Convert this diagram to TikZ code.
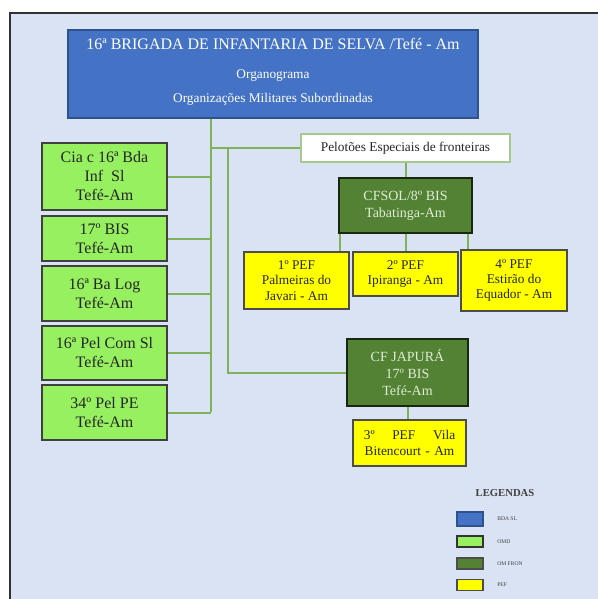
\documentclass[tikz,border=0pt]{standalone}
\usepackage{fontspec}
\setmainfont{Liberation Serif}
\definecolor{bgblue}{RGB}{218,227,243}
\definecolor{bdablue}{RGB}{68,114,196}
\definecolor{bdaborder}{RGB}{47,82,143}
\definecolor{omdgreen}{RGB}{150,240,95}
\definecolor{frongreen}{RGB}{84,130,53}
\definecolor{frontext}{RGB}{222,236,212}
\definecolor{pefyellow}{RGB}{255,255,0}
\definecolor{linegreen}{RGB}{128,178,92}
\usetikzlibrary{positioning}

\begin{document}
\begin{tikzpicture}[x=0.75pt, y=-0.75pt,
        every node/.style={font=\fontsize{10}{12}\selectfont, align=center, inner sep=0pt},
        bda/.style={draw=bdaborder, fill=bdablue, text=white, line width=1pt},
        omd/.style={draw=black!75, fill=omdgreen, line width=1.2pt, minimum width=93.75pt, text=black!85, font=\fontsize{12}{14.25}\selectfont},
        omfron/.style={draw=black!70!frongreen, fill=frongreen, line width=1.2pt, text=frontext, font=\fontsize{10.5}{12.75}\selectfont},
        pef/.style={draw=black!70, fill=pefyellow, line width=1.2pt, text=black!85, font=\fontsize{10}{11.5}\selectfont},
        title/.style={draw=linegreen!70, fill=white, line width=1pt, text=black!85},
        conn/.style={draw=linegreen, line width=1.5pt},
        swatch/.style={line width=1pt, minimum width=19.5pt, minimum height=9pt},
        legtext/.style={font=\fontsize{4.2}{5}\selectfont, anchor=west, text=black!75},
        node distance=2.55pt
      ]
      \useasboundingbox (0,0) rectangle (597,599);
      % background frame
      \draw[fill=bgblue, draw=black!80, line width=1.5pt] (10,13) rectangle (640,640);

      % top box
      \node[bda, minimum width=307.5pt, minimum height=66pt] (bda) at (273,74)
        {{\fontsize{12}{14}\selectfont 16ª BRIGADA DE INFANTARIA DE SELVA /Tefé - Am}\\[9.5pt]
         Organograma\\[6pt] Organizações Militares Subordinadas\\[-7pt]\mbox{}};

      % left column
      \node[omd, minimum height=50.25pt] (cia) at (104.5,176.5) {Cia c 16ª Bda\\Inf\ \ Sl\\Tefé-Am};
      \node[omd, minimum height=33.75pt, below=3.3pt of cia] (bis) {17º BIS\\Tefé-Am};
      \node[omd, minimum height=41.25pt, below=of bis] (balog) {16ª Ba Log\\Tefé-Am};
      \node[omd, minimum height=40.5pt, below=of balog] (pelcom) {16ª Pel Com Sl\\Tefé-Am};
      \node[omd, minimum height=41.25pt, below=of pelcom] (pelpe) {34º Pel PE\\Tefé-Am};

      % fronteira
      \node[title, minimum width=156.75pt, minimum height=21pt] (pel) at (405.5,148) {Pelotões Especiais de fronteiras};
      \node[omfron, minimum width=99.75pt, minimum height=41.25pt] (cfsol) at (405.5,205.5) {CFSOL/8º BIS\\Tabatinga-Am};
      \node[pef, minimum width=78.75pt, minimum height=33pt] (pef2) at (405.5,274) {2º PEF\\Ipiranga - Am};
      \node[pef, minimum width=78.75pt, minimum height=42.75pt] (pef1) at (296.5,280.5) {1º PEF\\Palmeiras do\\Javari - Am};
      \node[pef, minimum width=79.5pt, minimum height=45.75pt] (pef4) at (514,280.5) {4º PEF\\Estirão do\\Equador - Am};
      \node[omfron, minimum width=90.75pt, minimum height=50.25pt] (japura) at (407.5,372.5) {CF JAPURÁ\\17º BIS\\Tefé-Am};
      \node[pef, minimum width=84.75pt, minimum height=34.5pt, text width=68.5pt] (pef3) at (409.5,443)
        {3º\hfill PEF\hfill Vila\\Bitencourt - Am};

      % connectors
      \coordinate (bus) at (211,412);
      \coordinate (split) at (228,148);
      \draw[conn] (bda.south -| bus) -- (bus);
      \draw[conn] (cia.east) -- (cia.east -| bus);
      \draw[conn] (bis.east) -- (bis.east -| bus);
      \draw[conn] (balog.east) -- (balog.east -| bus);
      \draw[conn] (pelcom.east) -- (pelcom.east -| bus);
      \draw[conn] (pelpe.east) -- (pelpe.east -| bus);
      \draw[conn] (pel.west) -- (pel.west -| bus);
      \draw[conn] (split) |- (japura.west);
      \draw[conn] (pel.south) -- (cfsol.north);
      \draw[conn] ([xshift=1.5pt]cfsol.south west) -- ([xshift=1.5pt]cfsol.south west |- pef1.north);
      \draw[conn] (cfsol.south) -- (pef2.north);
      \draw[conn] ([xshift=-3.75pt]cfsol.south east) -- ([xshift=-3.75pt]cfsol.south east |- pef4.north);
      \draw[conn] (japura.south) -- (japura.south |- pef3.north);

      % legend
      \node[font=\bfseries\fontsize{8}{9}\selectfont, text=black!75] (leg) at (505,493) {LEGENDAS};
      \node[swatch, draw=bdaborder, fill=bdablue, minimum height=10.5pt] (sbda) at (470,519) {};
      \node[swatch, draw=black!80, fill=omdgreen, minimum height=8.25pt] (somd) at (470,541.5) {};
      \node[swatch, draw=black!70, fill=frongreen, minimum height=8.25pt] (sfron) at (470,563.5) {};
      \node[swatch, draw=black!70, fill=pefyellow, minimum height=8.25pt] (spef) at (470,585) {};
      \node[legtext] at (497,519) {BDA SL};
      \node[legtext] at (497,541.5) {OMD};
      \node[legtext] at (497,563.5) {OM FRON};
      \node[legtext] at (497,585) {PEF};
    \end{tikzpicture}
\end{document}
